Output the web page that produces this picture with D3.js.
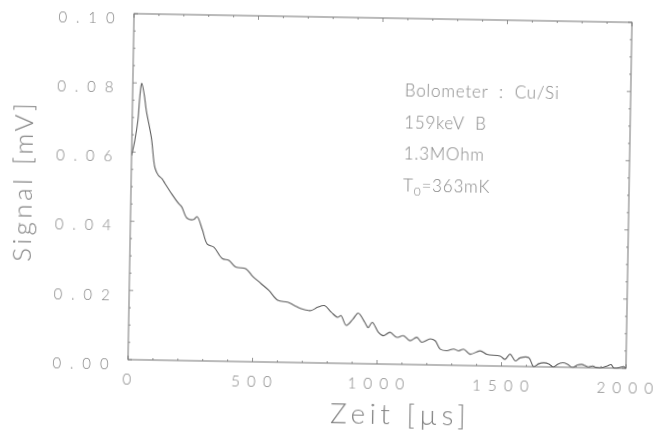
<!DOCTYPE html>
<html>
<head>
<meta charset="utf-8">
<script src="https://cdn.jsdelivr.net/npm/d3@7"></script>
<style>
  html, body { margin: 0; padding: 0; background: #fff; }
  svg { display: block; }
  text { font-family: Lato, "Open Sans", "DejaVu Sans", sans-serif; font-weight: 300; fill: #858585; }
</style>
</head>
<body>
<svg id="chart" width="663" height="433"></svg>
<script>
// Bolometer pulse: time in microseconds, signal in millivolts
const timeUs = [
  0, 12, 23, 28, 33, 36, 47, 56, 78, 95, 109, 124, 136, 164, 192, 205, 227, 254, 267, 289,
  310, 337, 371, 398, 426, 466, 495, 528, 561, 597, 637, 664, 691, 731, 758, 785, 813, 839, 852, 874,
  901, 921, 948, 962, 978, 1003, 1023, 1050, 1077, 1104, 1131, 1158, 1178, 1212, 1232, 1253, 1280, 1307, 1327, 1347,
  1373, 1414, 1441, 1494, 1514, 1534, 1555, 1575, 1609, 1629, 1650, 1670, 1690, 1708, 1727, 1746, 1765, 1785, 1805, 1822,
  1838, 1850, 1866, 1880, 1900, 1925, 1940, 1952, 1975, 1990, 2000
];
const signalMv = [
  0.0590, 0.0634, 0.0692, 0.0750, 0.0790, 0.0800, 0.0765, 0.0721, 0.0644, 0.0555, 0.0534, 0.0524, 0.0511, 0.0481, 0.0454, 0.0444, 0.0412, 0.0408, 0.0417, 0.0380,
  0.0338, 0.0329, 0.0297, 0.0292, 0.0273, 0.0269, 0.0247, 0.0227, 0.0207, 0.0179, 0.0174, 0.0165, 0.0156, 0.0151, 0.0161, 0.0166, 0.0147, 0.0133, 0.0138, 0.0110,
  0.0129, 0.0146, 0.0120, 0.0105, 0.0120, 0.0092, 0.0082, 0.0092, 0.0078, 0.0083, 0.0069, 0.0079, 0.0065, 0.0075, 0.0070, 0.0046, 0.0042, 0.0047, 0.0042, 0.0047,
  0.0033, 0.0043, 0.0033, 0.0029, 0.0020, 0.0035, 0.0016, 0.0025, 0.0026, 0.0000, 0.0009, 0.0012, 0.0009, 0.0000, 0.0009, 0.0013, 0.0009, 0.0000, 0.0007, 0.0009,
  0.0005, 0.0002, 0.0005, 0.0001, 0.0000, 0.0006, 0.0010, 0.0000, 0.0002, 0.0005, 0.0000
];
const xTickValues = [0, 500, 1000, 1500, 2000];
const xTickLabels = ["0", "5 0 0", "1 0 0 0", "1 5 0 0", "2 0 0 0"];
const yTickValues = [0, 0.02, 0.04, 0.06, 0.08, 0.10];
const yTickLabels = ["0 . 0 0", "0 . 0 2", "0 . 0 4", "0 . 0 6", "0 . 0 8", "0 . 1 0"];
const legendLines = ["Bolometer  :  Cu/Si", "159keV  B", "1.3MOhm", "T0=363mK"];

const svg = d3.select("#chart");
const frame = { left: 131, right: 629, top: 18, bottom: 364 };
const cx = (frame.left + frame.right) / 2, cy = (frame.top + frame.bottom) / 2;

// whole plot sits slightly tilted on the page; slight opacity keeps text greyscale-smoothed
const g = svg.append("g")
  .attr("transform", `rotate(1, ${cx}, ${cy})`)
  .attr("opacity", 0.999);

const x = d3.scaleLinear().domain([0, 2000]).range([frame.left, frame.right]);
const y = d3.scaleLinear().domain([0, 0.10]).range([frame.bottom, frame.top]);

svg.append("defs").append("clipPath").attr("id", "plotclip")
  .append("rect").attr("x", frame.left).attr("y", frame.top)
  .attr("width", frame.right - frame.left).attr("height", frame.bottom - frame.top + 0.5);

// frame
g.append("rect")
  .attr("x", frame.left).attr("y", frame.top)
  .attr("width", frame.right - frame.left).attr("height", frame.bottom - frame.top)
  .attr("fill", "none").attr("stroke", "#666").attr("stroke-width", 0.9);

// inward ticks on all four sides
const tickStroke = "#777";
const xMinor = d3.range(0, 2001, 100);
const yMinor = d3.range(0, 0.1001, 0.005);
xMinor.forEach(v => {
  const len = v % 500 === 0 ? 4 : 2;
  g.append("line").attr("x1", x(v)).attr("x2", x(v)).attr("y1", frame.bottom).attr("y2", frame.bottom - len)
    .attr("stroke", tickStroke).attr("stroke-width", 0.8);
  g.append("line").attr("x1", x(v)).attr("x2", x(v)).attr("y1", frame.top).attr("y2", frame.top + len)
    .attr("stroke", tickStroke).attr("stroke-width", 0.8);
});
yMinor.forEach((v, i) => {
  const len = i % 4 === 0 ? 4 : 2;
  g.append("line").attr("y1", y(v)).attr("y2", y(v)).attr("x1", frame.left).attr("x2", frame.left + len)
    .attr("stroke", tickStroke).attr("stroke-width", 0.8);
  g.append("line").attr("y1", y(v)).attr("y2", y(v)).attr("x1", frame.right).attr("x2", frame.right - len)
    .attr("stroke", tickStroke).attr("stroke-width", 0.8);
});

// tick labels
g.selectAll(".ylab").data(yTickValues).enter().append("text")
  .attr("class", "ylab")
  .attr("x", frame.left - 17).attr("y", d => y(d) + 4.5)
  .attr("dy", "0.35em").attr("text-anchor", "end")
  .style("font-size", "15px").style("letter-spacing", "2.4px")
  .style("white-space", "pre")
  .text((d, i) => yTickLabels[i]);

g.selectAll(".xlab").data(xTickValues).enter().append("text")
  .attr("class", "xlab")
  .attr("x", d => x(d)).attr("y", frame.bottom + 20)
  .attr("dy", "0.35em").attr("text-anchor", "middle")
  .style("font-size", "15px").style("letter-spacing", "1.6px")
  .style("white-space", "pre")
  .text((d, i) => xTickLabels[i]);

// axis titles
g.append("text")
  .attr("transform", `translate(32, 187) rotate(-90)`)
  .attr("text-anchor", "middle")
  .style("font-size", "26px").style("letter-spacing", "3.5px")
  .text("Signal [mV]");

g.append("text")
  .attr("x", 404).attr("y", 424)
  .attr("text-anchor", "middle")
  .style("font-size", "28px").style("letter-spacing", "4.5px")
  .text("Zeit [µs]");

// annotation block
const legend = g.append("g");
legendLines.forEach((s, i) => {
  const t = legend.append("text")
    .attr("x", 403).attr("y", 96 + i * 31.7)
    .style("font-size", "17px").style("letter-spacing", "0.8px")
    .style("white-space", "pre");
  if (s.startsWith("T0")) {
    t.append("tspan").text("T");
    t.append("tspan").attr("dy", 4).style("font-size", "12px").text("0");
    t.append("tspan").attr("dy", -4).text(s.slice(2));
  } else {
    t.text(s);
  }
});

// signal trace
const pts = timeUs.map((t, i) => [t, signalMv[i]]);
const line = d3.line().x(d => x(d[0])).y(d => y(d[1])).curve(d3.curveCatmullRom.alpha(0.5));
g.append("path")
  .datum(pts)
  .attr("clip-path", "url(#plotclip)")
  .attr("d", line)
  .attr("fill", "none")
  .attr("stroke", "#5e5e5e")
  .attr("stroke-width", 1.1)
  .attr("stroke-linejoin", "round");
</script>
</body>
</html>
